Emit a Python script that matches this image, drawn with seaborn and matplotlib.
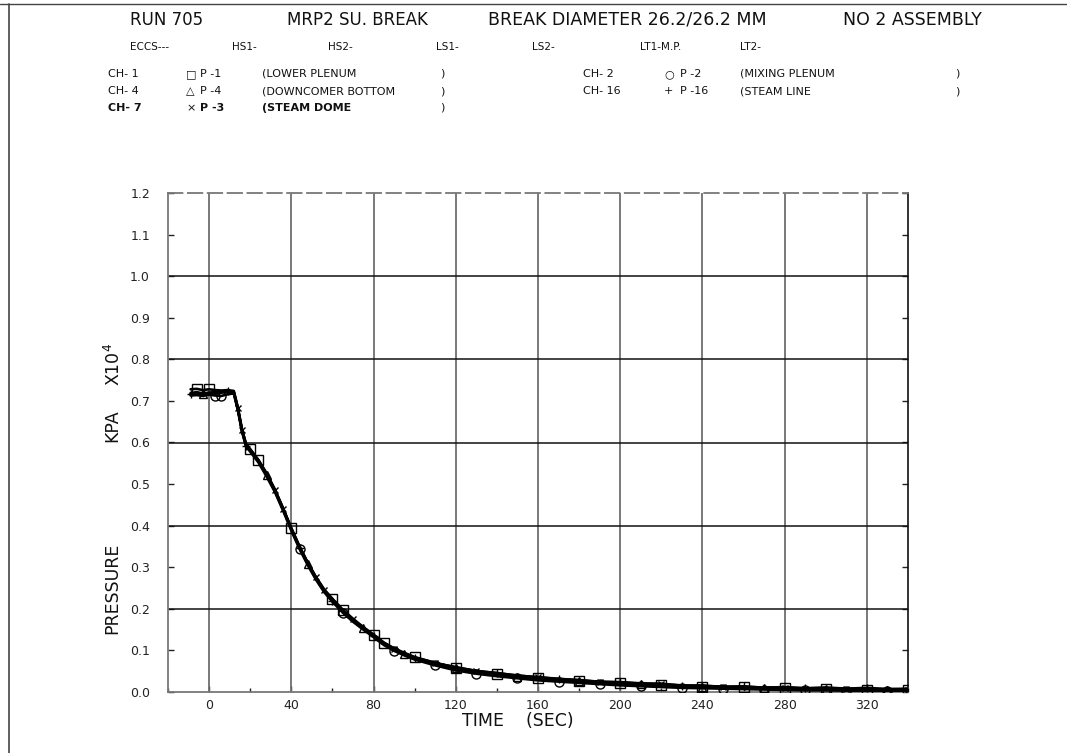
import matplotlib
matplotlib.use("Agg")
import matplotlib.pyplot as plt
from matplotlib.lines import Line2D
from matplotlib.ticker import FormatStrFormatter, MultipleLocator
import numpy as np
import pandas as pd
import seaborn as sns

# ---- data -----------------------------------------------------------------
time_s = [-9, -6, -3, 0, 3, 6, 9, 12, 14, 16, 18, 20, 24, 28, 32, 36, 40,
          44, 48, 52, 56, 60, 65, 70, 75, 80, 85, 90, 95, 100, 110, 120, 130,
          140, 150, 160, 170, 180, 190, 200, 210, 220, 230, 240, 250, 260,
          270, 280, 290, 300, 310, 320, 330, 340]

# pressure, kPa x 10^4
p_lower_plenum = [0.728, 0.729, 0.726, 0.728, 0.726, 0.725, 0.726, 0.724,
                  0.684, 0.632, 0.596, 0.584, 0.558, 0.526, 0.487, 0.442,
                  0.394, 0.350, 0.311, 0.276, 0.246, 0.224, 0.198, 0.176,
                  0.156, 0.138, 0.119, 0.105, 0.094, 0.084, 0.070, 0.058,
                  0.050, 0.044, 0.038, 0.034, 0.030, 0.027, 0.024, 0.021,
                  0.019, 0.017, 0.015, 0.013, 0.012, 0.011, 0.010, 0.009,
                  0.008, 0.008, 0.007, 0.006, 0.006, 0.005]
p_mixing_plenum = [0.713, 0.714, 0.712, 0.715, 0.713, 0.712, 0.716, 0.718,
                   0.678, 0.626, 0.590, 0.578, 0.552, 0.518, 0.481, 0.436,
                   0.388, 0.344, 0.305, 0.270, 0.240, 0.217, 0.191, 0.169,
                   0.150, 0.132, 0.113, 0.099, 0.088, 0.078, 0.064, 0.052,
                   0.044, 0.038, 0.033, 0.028, 0.025, 0.022, 0.019, 0.016,
                   0.014, 0.012, 0.010, 0.009, 0.008, 0.007, 0.006, 0.005,
                   0.004, 0.004, 0.003, 0.003, 0.003, 0.002]
p_downcomer_bottom = [0.716, 0.718, 0.717, 0.719, 0.718, 0.720, 0.722, 0.721,
                      0.680, 0.630, 0.594, 0.582, 0.556, 0.522, 0.485, 0.440,
                      0.392, 0.348, 0.309, 0.274, 0.244, 0.221, 0.196, 0.174,
                      0.154, 0.136, 0.117, 0.103, 0.092, 0.082, 0.068, 0.057,
                      0.049, 0.043, 0.037, 0.033, 0.029, 0.026, 0.023, 0.021,
                      0.019, 0.017, 0.015, 0.013, 0.012, 0.011, 0.010, 0.009,
                      0.008, 0.008, 0.007, 0.006, 0.006, 0.005]
p_steam_dome = [0.719, 0.721, 0.718, 0.720, 0.721, 0.722, 0.724, 0.722,
                0.682, 0.629, 0.594, 0.583, 0.557, 0.524, 0.486, 0.441,
                0.393, 0.349, 0.310, 0.276, 0.246, 0.223, 0.197, 0.175,
                0.155, 0.137, 0.118, 0.104, 0.093, 0.083, 0.070, 0.059,
                0.051, 0.045, 0.040, 0.035, 0.032, 0.028, 0.025, 0.023,
                0.021, 0.019, 0.016, 0.014, 0.013, 0.012, 0.011, 0.010,
                0.009, 0.009, 0.008, 0.007, 0.007, 0.006]
p_steam_line = [0.717, 0.719, 0.716, 0.719, 0.719, 0.721, 0.723, 0.720,
                0.679, 0.628, 0.592, 0.581, 0.555, 0.523, 0.484, 0.439,
                0.391, 0.347, 0.308, 0.273, 0.243, 0.220, 0.195, 0.173,
                0.153, 0.135, 0.117, 0.103, 0.092, 0.082, 0.069, 0.060,
                0.050, 0.046, 0.039, 0.036, 0.031, 0.029, 0.024, 0.024,
                0.020, 0.020, 0.015, 0.016, 0.012, 0.014, 0.010, 0.012,
                0.009, 0.011, 0.008, 0.010, 0.007, 0.008]

x_ticks = [0, 40, 80, 120, 160, 200, 240, 280, 320]

df = pd.DataFrame({
    "time": time_s,
    "CH-1": p_lower_plenum,
    "CH-2": p_mixing_plenum,
    "CH-4": p_downcomer_bottom,
    "CH-7": p_steam_dome,
    "CH-16": p_steam_line,
})

# symbol placement along each trace (times at which the plotter stamped a symbol)
mark_times = {
    "CH-1": [-6, 0, 20, 24, 40, 60, 65, 80, 85, 100, 120, 140, 160, 180, 200,
             220, 240, 260, 280, 300, 320, 340],
    "CH-2": [3, 6, 44, 65, 90, 110, 130, 150, 170, 190, 210, 230, 250, 270,
             290, 310, 330],
    "CH-4": [-3, 28, 48, 75, 95, 120, 150, 180, 210, 240, 270, 300, 330],
    "CH-7": [14, 16, 32, 36, 52, 56, 70, 90, 110, 130, 160, 190, 220, 250,
             280, 310, 340],
    "CH-16": [-9, 9, 18, 44, 60, 80, 100, 140, 170, 200, 230, 260, 290, 320],
}
styles = {
    "CH-1": dict(marker="s", ms=6.5),
    "CH-2": dict(marker="o", ms=6.5),
    "CH-4": dict(marker="^", ms=6),
    "CH-7": dict(marker="x", ms=5),
    "CH-16": dict(marker="+", ms=6),
}

# ---- figure -----------------------------------------------------------------
sns.set_theme(style="white")
plt.rcParams["font.family"] = ["DejaVu Sans"]

W, H = 1067, 753
fig = plt.figure(figsize=(W / 100, H / 100), dpi=100)
fig.patch.set_facecolor("white")


def fx(px):
    return px / W


def fy(py):
    return 1 - py / H


ax_l, ax_r, ax_t, ax_b = 168, 908, 193, 692
ax = fig.add_axes([fx(ax_l), fy(ax_b), fx(ax_r - ax_l), (ax_b - ax_t) / H])
ax.set_facecolor("white")

ax.set_xlim(-20, 340)
ax.set_ylim(0, 1.2)

# grid
for xv in x_ticks:
    ax.axvline(xv, color="#6e6e6e", lw=1.3, zorder=1)
for yv in [0.2, 0.4, 0.6, 0.8, 1.0]:
    ax.axhline(yv, color="#111111", lw=1.1, zorder=1)

for name in ["CH-1", "CH-2", "CH-4", "CH-7", "CH-16"]:
    idx = [time_s.index(t) for t in mark_times[name]]
    st = styles[name]
    sns.lineplot(data=df, x="time", y=name, ax=ax, color="black", lw=1.9,
                 estimator=None, marker=st["marker"], ms=st["ms"],
                 markevery=idx, mfc="none", mec="black", mew=1.0, zorder=3)

ax.set_xlabel("")
ax.set_ylabel("")

ax.set_xticks(x_ticks)
ax.yaxis.set_major_locator(MultipleLocator(0.1))
ax.yaxis.set_major_formatter(FormatStrFormatter("%.1f"))
ax.xaxis.set_minor_locator(MultipleLocator(20))
ax.tick_params(axis="both", which="both", direction="in", length=4,
               width=1.0, color="#222222", labelsize=9, labelcolor="#222222")
ax.tick_params(axis="y", which="major", pad=13, left=True, right=True)
ax.tick_params(axis="x", which="major", pad=5, bottom=True)
ax.tick_params(axis="x", which="minor", bottom=True, length=3)

for side in ["left", "bottom", "top"]:
    ax.spines[side].set_color("#777777")
    ax.spines[side].set_linewidth(1.3)
ax.spines["top"].set_linestyle((0, (8, 3)))
ax.spines["right"].set_color("#111111")
ax.spines["right"].set_linewidth(1.2)

# axis titles
fig.text(fx(518), fy(721), "TIME    (SEC)", fontsize=12.5, ha="center",
         va="center", color="#111111")
fig.text(fx(112), fy(588), "PRESSURE", fontsize=12.5, rotation=90,
         ha="center", va="center", color="#111111")
fig.text(fx(112), fy(426), "KPA", fontsize=12.5, rotation=90,
         ha="center", va="center", color="#111111")
fig.text(fx(114), fy(364), "X10$^4$", fontsize=12.5, rotation=90,
         ha="center", va="center", color="#111111")

# header block
hdr = dict(ha="left", va="center", color="#111111")
row1, row2, rows = 20, 47, [74, 91, 108]
fig.text(fx(130), fy(row1), "RUN 705", fontsize=12, **hdr)
fig.text(fx(287), fy(row1), "MRP2 SU. BREAK", fontsize=12, **hdr)
fig.text(fx(488), fy(row1), "BREAK DIAMETER 26.2/26.2 MM", fontsize=12.5,
         **hdr)
fig.text(fx(843), fy(row1), "NO 2 ASSEMBLY", fontsize=12.5, **hdr)

for px, s in [(130, "ECCS---"), (232, "HS1-"), (328, "HS2-"), (436, "LS1-"),
              (532, "LS2-"), (640, "LT1-M.P."), (740, "LT2-")]:
    fig.text(fx(px), fy(row2), s, fontsize=7.5, **hdr)

left_rows = [
    (rows[0], "CH- 1", "\u25a1", "P -1", "(LOWER PLENUM", ")", 8, "normal"),
    (rows[1], "CH- 4", "\u25b3", "P -4", "(DOWNCOMER BOTTOM", ")", 8, "normal"),
    (rows[2], "CH- 7", "\u00d7", "P -3", "(STEAM DOME", ")", 8, "bold"),
]
for py, ch, sym, p, desc, close, fs, fw in left_rows:
    fig.text(fx(108), fy(py), ch, fontsize=fs, fontweight=fw, **hdr)
    fig.text(fx(186), fy(py), sym, fontsize=fs, **hdr)
    fig.text(fx(200), fy(py), p, fontsize=fs, fontweight=fw, **hdr)
    fig.text(fx(262), fy(py), desc, fontsize=fs, fontweight=fw, **hdr)
    fig.text(fx(440), fy(py), close, fontsize=fs, **hdr)

right_rows = [
    (rows[0], "CH- 2", "\u25cb", "P -2", "(MIXING PLENUM", ")"),
    (rows[1], "CH- 16", "+", "P -16", "(STEAM LINE", ")"),
]
for py, ch, sym, p, desc, close in right_rows:
    fig.text(fx(583), fy(py), ch, fontsize=8, **hdr)
    fig.text(fx(664), fy(py), sym, fontsize=8, **hdr)
    fig.text(fx(680), fy(py), p, fontsize=8, **hdr)
    fig.text(fx(740), fy(py), desc, fontsize=8, **hdr)
    fig.text(fx(955), fy(py), close, fontsize=8, **hdr)

# sheet edges
fig.add_artist(Line2D([fx(0), fx(1067)], [fy(4), fy(4)], color="#444444",
                      lw=1.0, transform=fig.transFigure))
fig.add_artist(Line2D([fx(9), fx(9)], [fy(4), fy(753)], color="#444444",
                      lw=1.2, transform=fig.transFigure))

fig.savefig("out.png", dpi=100, facecolor="white")
